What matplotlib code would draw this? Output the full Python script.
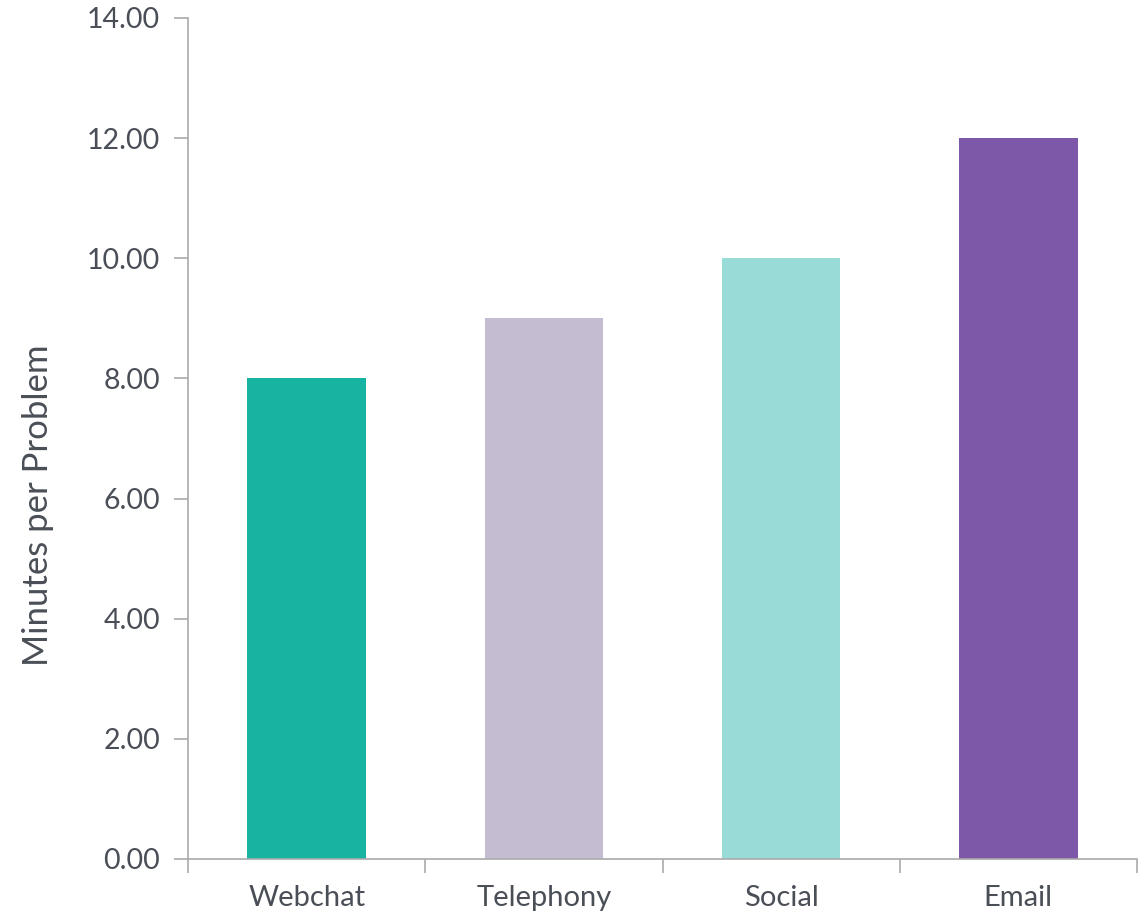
import numpy as np
import matplotlib
matplotlib.use("Agg")
import matplotlib.pyplot as plt

channels = ["Webchat", "Telephony", "Social", "Email"]
minutes = [8.0, 9.0, 10.0, 12.0]
bar_colors = ["#17b5a1", "#c4bcd0", "#99dbd6", "#7d57a8"]

plt.rcParams["font.family"] = ["Lato", "DejaVu Sans"]
text_color = "#4a4f57"
axis_color = "#aaaaaa"

fig = plt.figure(figsize=(11.48, 9.18), dpi=100)
ax = fig.add_axes([0.1638, 0.0643, 0.8266, 0.9161])

x = np.arange(len(channels))
ax.bar(x, minutes, width=0.5, color=bar_colors, zorder=2)

ax.set_xlim(-0.5, len(channels) - 0.5)
ax.set_ylim(0, 14)
ax.set_yticks(np.arange(0, 15, 2))
ax.set_yticklabels([f"{v:.2f}" for v in np.arange(0, 15, 2)])
ax.set_xticks(x)
ax.set_xticklabels(channels)
ax.set_xticks(np.arange(-0.5, len(channels)), minor=True)

ax.tick_params(axis="x", which="major", length=0, pad=19, labelsize=21, labelcolor=text_color)
ax.tick_params(axis="x", which="minor", length=10, width=1.2, color=axis_color, direction="out")
ax.tick_params(axis="y", length=10, width=1.2, color=axis_color, pad=10, labelsize=20.5, labelcolor=text_color)

for side in ["top", "right"]:
    ax.spines[side].set_visible(False)
for side in ["left", "bottom"]:
    ax.spines[side].set_color(axis_color)
    ax.spines[side].set_linewidth(1.2)

ax.set_ylabel("Minutes per Problem", fontsize=25, color=text_color)
ax.yaxis.set_label_coords(-0.141, 0.421)

fig.savefig("out.png", dpi=100)
